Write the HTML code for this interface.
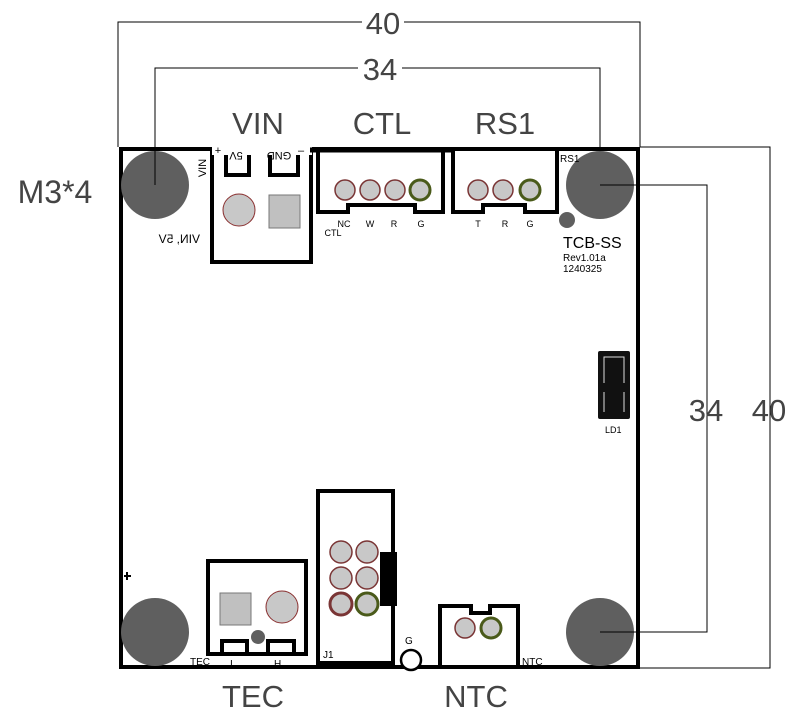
<!DOCTYPE html>
<html><head><style>body{margin:0;background:#fff}svg{display:block}</style></head><body>
<svg width="800" height="726" viewBox="0 0 800 726" xmlns="http://www.w3.org/2000/svg" font-family="Liberation Sans, sans-serif">
<rect width="800" height="726" fill="#fff"/>
<g stroke="#000" stroke-width="1" fill="none">
<path d="M118 147V22H640V147"/>
<path d="M155 185V68H600V185H707V632H600"/>
<path d="M640 147H770V668H640"/>
</g>
<g font-size="31" fill="#444" text-anchor="middle">
<rect x="362" y="6" width="42" height="32" fill="#fff"/><text x="383" y="34">40</text>
<rect x="358" y="52" width="44" height="32" fill="#fff"/><text x="380" y="80">34</text>
<text x="706" y="421">34</text><text x="769" y="421">40</text>
<text x="258" y="134">VIN</text><text x="382" y="134">CTL</text><text x="505" y="134">RS1</text>
<text x="253" y="707">TEC</text><text x="476" y="707">NTC</text>
<text x="55" y="203" font-size="32">M3*4</text>
</g>
<rect x="121" y="149" width="517" height="518" fill="none" stroke="#000" stroke-width="4"/>
<g fill="#5f5f5f"><circle cx="155" cy="185" r="34"/><circle cx="600" cy="185" r="34"/><circle cx="155" cy="632" r="34"/><circle cx="600" cy="632" r="34"/><circle cx="567" cy="220" r="8"/><circle cx="258" cy="637" r="7"/></g>
<g stroke="#000" stroke-width="1"><path d="M155 150V185M600 185H640M600 632H640"/></g>
<!-- VIN -->
<rect x="212" y="152" width="99" height="110" fill="none" stroke="#000" stroke-width="4"/>
<path d="M226 152V175H249V152M270 152V175H298V152" fill="#fff" stroke="#000" stroke-width="4"/>
<rect x="212" y="148" width="99" height="4" fill="#000"/>
<circle cx="239" cy="210" r="16" fill="#c8c8c8" stroke="#8a3030" stroke-width="1"/>
<rect x="269" y="195" width="31" height="33" fill="#c0c0c0" stroke="#777"/>
<g font-size="11" fill="#000">
<rect x="212" y="143" width="100" height="12" fill="#fff"/>
<text x="218" y="154" text-anchor="middle">+</text>
<text x="236" y="160" text-anchor="middle" transform="rotate(180 236 156)">5V</text>
<text x="279" y="160" text-anchor="middle" transform="rotate(180 279 156)">GND</text>
<text x="298" y="154">–</text>
<text x="202" y="172" text-anchor="middle" transform="rotate(-90 202 168)" font-size="11">VIN</text>
<text x="0" y="0" transform="translate(200 243) scale(-1 1)" font-size="12">VIN, 5V</text></g>
<!-- CTL -->
<path d="M318 150V212H348V205H415V212H443V150" fill="none" stroke="#000" stroke-width="4"/>
<g fill="#c8c8c8" stroke="#7a3535" stroke-width="1.5"><circle cx="345" cy="190" r="10"/><circle cx="370" cy="190" r="10"/><circle cx="395" cy="190" r="10"/><circle cx="420" cy="190" r="10" stroke="#4a5a1a" stroke-width="3"/></g>
<g font-size="9" fill="#000" text-anchor="middle"><text x="344" y="227">NC</text><text x="370" y="227">W</text><text x="394" y="227">R</text><text x="421" y="227">G</text><text x="333" y="236">CTL</text>
<text x="478" y="227">T</text><text x="505" y="227">R</text><text x="530" y="227">G</text></g>
<path d="M453 150V212H483V205H525V212H557V150" fill="none" stroke="#000" stroke-width="4"/>
<g fill="#c8c8c8" stroke="#7a3535" stroke-width="1.5"><circle cx="478" cy="190" r="10"/><circle cx="503" cy="190" r="10"/><circle cx="530" cy="190" r="10" stroke="#4a5a1a" stroke-width="3"/></g>
<path d="M310 150H453" stroke="#000" stroke-width="5"/>
<g fill="#000"><text x="560" y="162" font-size="10">RS1</text><text x="563" y="248" font-size="16">TCB-SS</text><text x="563" y="261" font-size="10">Rev1.01a</text><text x="563" y="272" font-size="10">1240325</text><text x="605" y="433" font-size="9">LD1</text></g>
<rect x="598" y="351" width="32" height="68" rx="2" fill="#111"/>
<path d="M604 383V357H624V383M604 392V412M624 392V412" stroke="#ddd" stroke-width="1" fill="none"/>
<!-- TEC -->
<rect x="208" y="561" width="98" height="93" fill="none" stroke="#000" stroke-width="4"/>
<path d="M222 654V641H247V654M268 654V641H294V654" fill="none" stroke="#000" stroke-width="4"/>
<rect x="220" y="593" width="31" height="32" fill="#c0c0c0" stroke="#777"/>
<circle cx="282" cy="607" r="16" fill="#c8c8c8" stroke="#8a3030"/>
<g font-size="10" fill="#000"><text x="190" y="665">TEC</text><text x="230" y="667">I</text><text x="274" y="667">H</text><text x="323" y="658">J1</text><text x="405" y="644">G</text><text x="522" y="665">NTC</text></g>
<path d="M124 576H131M127 572V580" stroke="#000" stroke-width="2"/>
<rect x="318" y="491" width="75" height="175" fill="none" stroke="#000" stroke-width="4"/>
<rect x="318" y="661" width="75" height="6" fill="#000"/>
<rect x="380" y="552" width="17" height="54" fill="#000"/>
<g fill="#c8c8c8" stroke="#7a3535" stroke-width="1.5"><circle cx="341" cy="552" r="11"/><circle cx="367" cy="552" r="11"/><circle cx="341" cy="578" r="11"/><circle cx="367" cy="578" r="11"/><circle cx="341" cy="604" r="11" stroke-width="3"/><circle cx="367" cy="604" r="11" stroke="#4a5a1a" stroke-width="3"/></g>
<circle cx="411" cy="660" r="10" fill="#fff" stroke="#000" stroke-width="2.5"/>
<path d="M440 666V606H471V613H490V606H518V666" fill="none" stroke="#000" stroke-width="4"/>
<g fill="#c8c8c8" stroke="#7a3535" stroke-width="1.5"><circle cx="465" cy="628" r="10"/><circle cx="491" cy="628" r="10" stroke="#4a5a1a" stroke-width="3"/></g>
</svg>
</body></html>
